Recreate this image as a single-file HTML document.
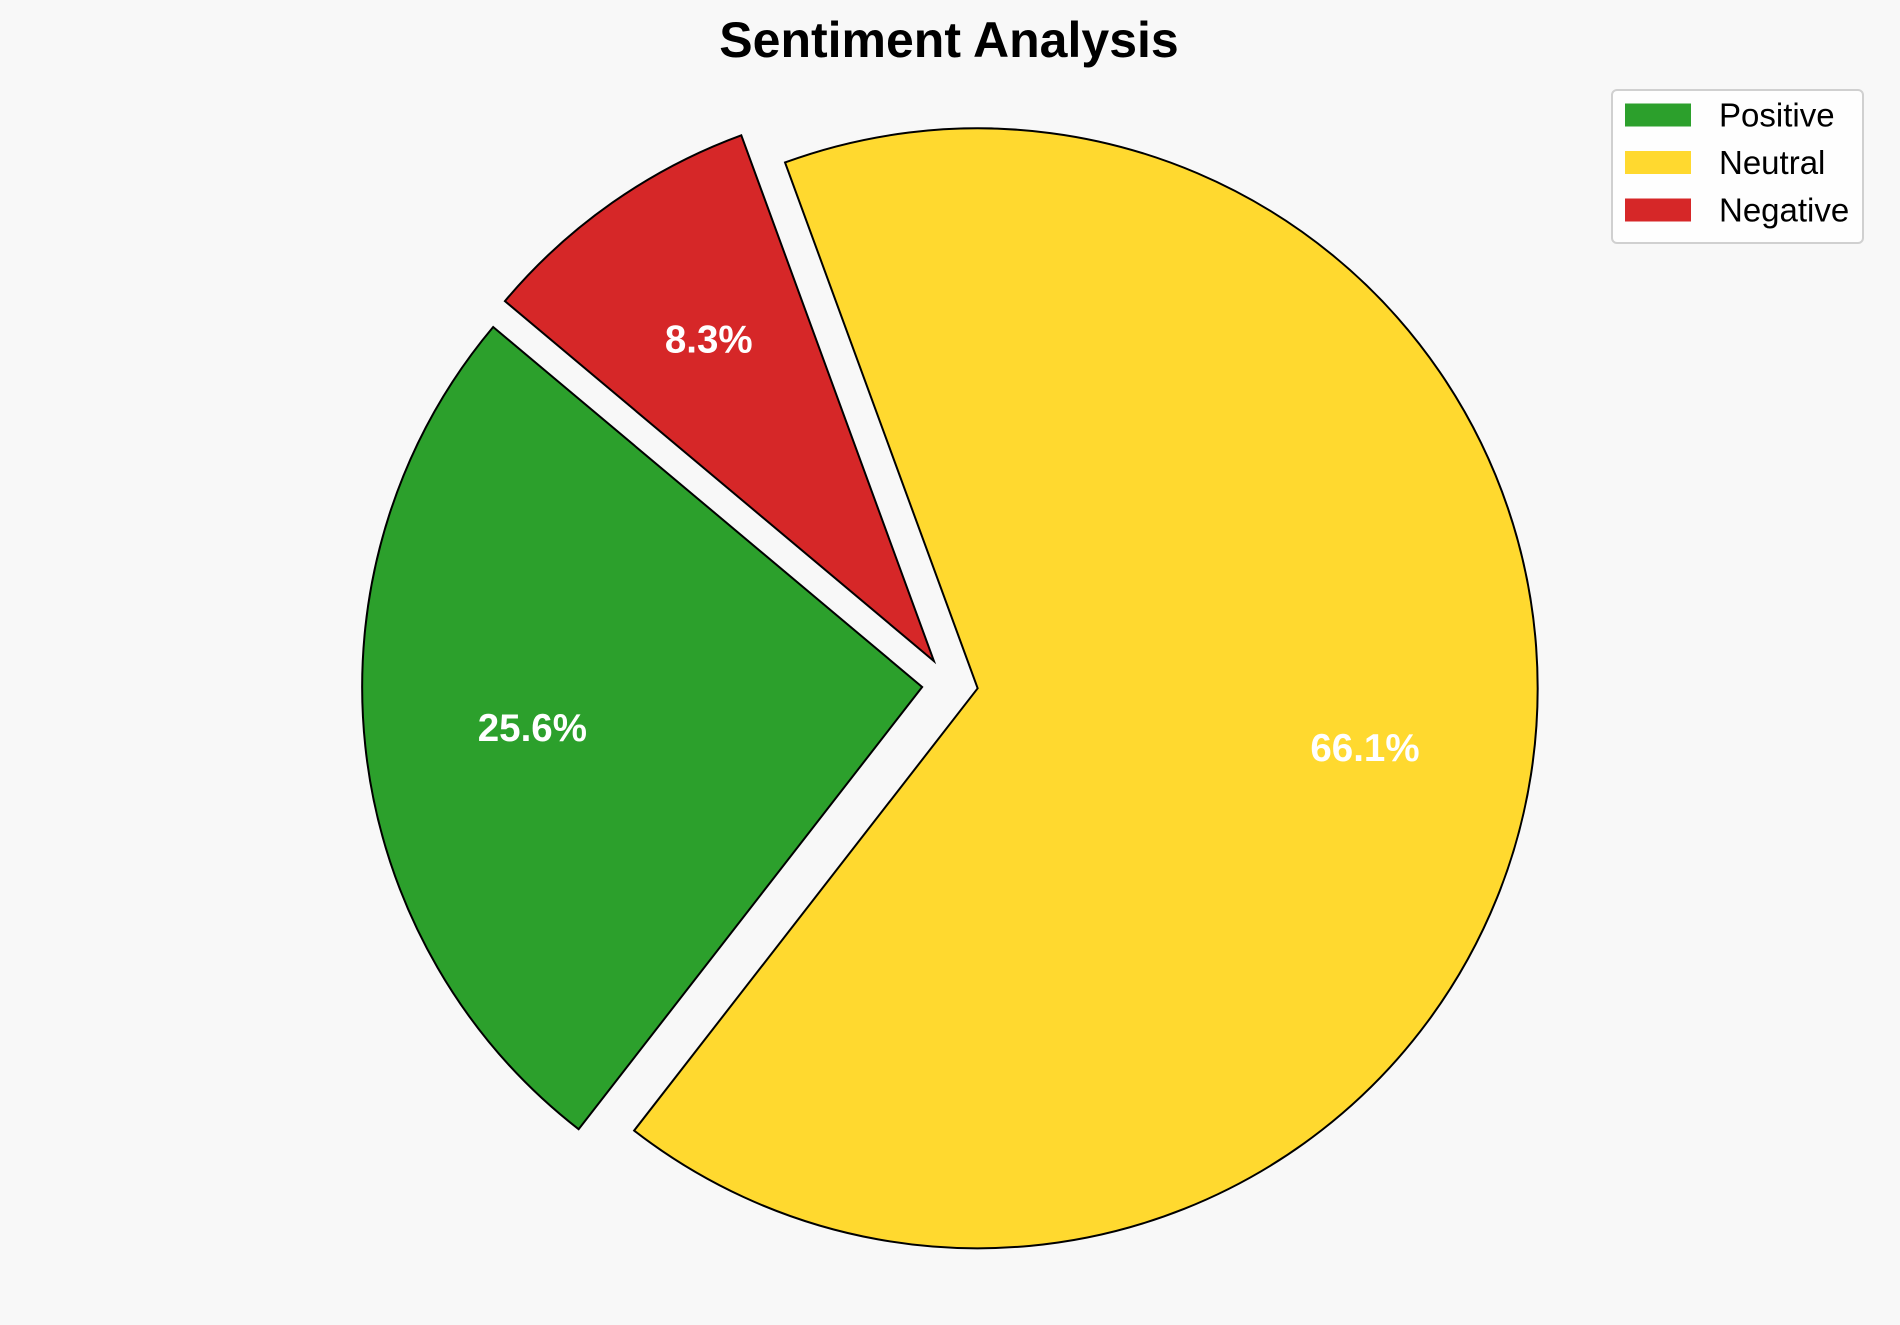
<!DOCTYPE html>
<html><head><meta charset="utf-8">
<style>
html,body{margin:0;padding:0;background:#f8f8f8;}
svg{display:block;font-family:"Liberation Sans",Arial,sans-serif;}
</style></head>
<body>
<svg id="chart" width="1900" height="1325" viewBox="0 0 1900 1325">
<rect width="1900" height="1325" fill="#f8f8f8"/>
<text x="949" y="57" text-anchor="middle" font-size="50" font-weight="bold" fill="#000">Sentiment Analysis</text>
<g id="slices"></g>
<g id="labels"></g>
<g>
<rect x="1612" y="90" width="251" height="153" rx="5" fill="#fff" fill-opacity="0.85" stroke="#d0d0d0" stroke-width="2"/>
<g id="legend-items"></g>
</g>
</svg>
<script>
const categories = ["Positive", "Neutral", "Negative"];
const values = [25.6, 66.1, 8.3];
const pctLabels = ["25.6%", "66.1%", "8.3%"];
const colors = ["#2ca02c", "#ffd92f", "#d62728"];
const explode = [0.05, 0.05, 0.05];

const cx = 950, cy = 684, R = 560, startAngle = 140, pctDist = 0.7;
const NS = "http://www.w3.org/2000/svg";
const total = values.reduce((a, b) => a + b, 0);
const slicesG = document.getElementById("slices");
const labelsG = document.getElementById("labels");
const legendG = document.getElementById("legend-items");

function pt(ox, oy, r, deg) {
  const a = deg * Math.PI / 180;
  return [ox + r * Math.cos(a), oy - r * Math.sin(a)];
}

let ang = startAngle;
values.forEach((v, i) => {
  const sweep = v / total * 360;
  const mid = ang + sweep / 2;
  const [ox, oy] = pt(cx, cy, explode[i] * R, mid);
  const [x1, y1] = pt(ox, oy, R, ang);
  const [x2, y2] = pt(ox, oy, R, ang + sweep);
  const large = sweep > 180 ? 1 : 0;
  const p = document.createElementNS(NS, "path");
  p.setAttribute("d", `M${ox},${oy} L${x1},${y1} A${R},${R} 0 ${large} 0 ${x2},${y2} Z`);
  p.setAttribute("fill", colors[i]);
  p.setAttribute("stroke", "#000");
  p.setAttribute("stroke-width", "2");
  p.setAttribute("stroke-linejoin", "miter");
  
  
  slicesG.appendChild(p);

  const [lx, ly] = pt(ox, oy, R * pctDist, mid);
  const t = document.createElementNS(NS, "text");
  t.setAttribute("x", lx);
  t.setAttribute("y", ly);
  t.setAttribute("text-anchor", "middle");
  t.setAttribute("dominant-baseline", "central");
  t.setAttribute("font-size", "38.5");
  t.setAttribute("font-weight", "bold");
  t.setAttribute("fill", "#fff");
  t.textContent = pctLabels[i];
  
  
  labelsG.appendChild(t);
  ang += sweep;
});

categories.forEach((c, i) => {
  const y = 115 + i * 47.5;
  const r = document.createElementNS(NS, "rect");
  r.setAttribute("x", 1625);
  r.setAttribute("y", y - 11.5);
  r.setAttribute("width", 66);
  r.setAttribute("height", 23);
  r.setAttribute("fill", colors[i]);
  
  
  legendG.appendChild(r);
  const t = document.createElementNS(NS, "text");
  t.setAttribute("x", 1719);
  t.setAttribute("y", y + 11.5);
  t.setAttribute("font-size", "33");
  t.setAttribute("fill", "#000");
  t.textContent = c;
  
  
  legendG.appendChild(t);
});
</script>
</body></html>
